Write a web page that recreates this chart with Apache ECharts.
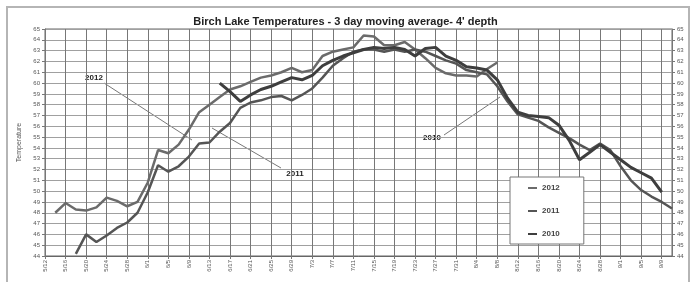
<!DOCTYPE html>
<html>
<head>
<meta charset="utf-8">
<script src="https://cdn.jsdelivr.net/npm/echarts@6.0.0/dist/echarts.min.js"></script>
<style>
html, body { margin: 0; padding: 0; background: #fff; }
#canvas_main { width: 691px; height: 282px; }
</style>
</head>
<body>
<div id="canvas_main"></div>
<script>
// 3 day moving average, one point every 2 days
var dates = ['5/12','5/14','5/16','5/18','5/20','5/22','5/24','5/26','5/28','5/30',
	'6/1','6/3','6/5','6/7','6/9','6/11','6/13','6/15','6/17','6/19','6/21','6/23','6/25','6/27','6/29',
	'7/1','7/3','7/5','7/7','7/9','7/11','7/13','7/15','7/17','7/19','7/21','7/23','7/25','7/27','7/29','7/31',
	'8/2','8/4','8/6','8/8','8/10','8/12','8/14','8/16','8/18','8/20','8/22','8/24','8/26','8/28','8/30',
	'9/1','9/3','9/5','9/7','9/9','9/11'];

var t2012 = [null,48.0,48.9,48.3,48.2,48.5,49.4,49.1,48.6,49.0,
	50.8,53.8,53.5,54.3,55.7,57.3,58.0,58.7,59.4,59.7,60.1,60.5,60.7,61.0,61.4,
	61.0,61.2,62.5,62.9,63.1,63.3,64.4,64.3,63.5,63.5,63.8,63.1,62.3,61.4,60.9,60.7,
	60.7,60.6,61.3,61.9,null,null,null,null,null,null,null,null,null,null,null,
	null,null,null,null,null,null];

var t2011 = [null,null,null,44.2,46.0,45.3,45.9,46.6,47.1,48.0,
	49.9,52.4,51.8,52.3,53.2,54.4,54.5,55.5,56.3,57.7,58.2,58.4,58.7,58.8,58.4,
	58.9,59.5,60.5,61.6,62.3,62.9,63.1,63.1,62.9,63.1,62.9,63.1,62.9,62.5,62.1,61.8,
	61.2,61.0,60.8,59.7,58.3,57.1,56.8,56.5,55.9,55.4,54.9,54.3,53.8,54.4,53.8,
	52.3,51.0,50.1,49.5,49.0,48.4];

var t2010 = [null,null,null,null,null,null,null,null,null,null,
	null,null,null,null,null,null,null,60.0,59.2,58.3,58.9,59.4,59.7,60.1,60.5,
	60.3,60.7,61.6,62.1,62.5,62.8,63.1,63.3,63.2,63.3,63.1,62.5,63.2,63.3,62.5,62.1,
	61.5,61.4,61.2,60.3,58.6,57.3,57.0,56.9,56.8,56.1,54.7,52.9,53.6,54.3,53.6,
	52.9,52.2,51.7,51.2,49.9,null];

var years = ['2012', '2011', '2010'];
var yMin = 44, yMax = 65;

var myChart = echarts.init(document.getElementById('canvas_main'));

function yAxisStr(pos) {
	return {
		type: 'value',
		position: pos,
		min: yMin,
		max: yMax,
		interval: 1,
		name: pos == 'left' ? 'Temperature' : '',
		nameLocation: 'middle',
		nameGap: 22,
		nameTextStyle: { fontSize: 7, color: '#555', fontFamily: 'Liberation Sans' },
		axisLine: { show: true, lineStyle: { color: '#777' } },
		axisTick: { show: true, length: 3, lineStyle: { color: '#777' } },
		axisLabel: { fontSize: 6, color: '#555', margin: 5, fontFamily: 'Liberation Sans' },
		splitLine: { show: pos == 'left', lineStyle: { color: '#a0a0a0', width: 1 } }
	};
}

function lineSeries(name, data, color, width) {
	return {
		name: name,
		type: 'line',
		data: data,
		symbol: 'none',
		showSymbol: false,
		connectNulls: false,
		lineStyle: { color: color, width: width },
		itemStyle: { color: color }
	};
}

var option = {
	animation: false,
	backgroundColor: '#fff',
	title: {
		text: "Birch Lake Temperatures - 3 day moving average- 4' depth",
		left: 'center',
		top: 11,
		textStyle: { fontSize: 11, fontWeight: 'bold', color: '#222', fontFamily: 'Liberation Sans' }
	},
	grid: {
		left: 45, right: 19, top: 29, bottom: 26,
		show: true, borderColor: '#666', borderWidth: 1
	},
	legend: {
		orient: 'vertical',
		left: 510, top: 177,
		data: years,
		icon: 'rect',
		itemWidth: 9, itemHeight: 2, itemGap: 15,
		padding: [7, 24, 6, 18],
		backgroundColor: '#fff',
		borderColor: '#777', borderWidth: 1,
		textStyle: { fontSize: 8, fontWeight: 'bold', color: '#444', fontFamily: 'Liberation Sans' }
	},
	xAxis: {
		type: 'category',
		data: dates,
		boundaryGap: false,
		axisLine: { lineStyle: { color: '#666' } },
		axisTick: { interval: 1, length: 3, lineStyle: { color: '#777' } },
		axisLabel: { interval: 1, rotate: 90, fontSize: 6, color: '#555', margin: 4, fontFamily: 'Liberation Sans' },
		splitLine: { show: true, interval: 1, lineStyle: { color: '#777', width: 1 } }
	},
	yAxis: [yAxisStr('left'), yAxisStr('right')],
	series: [
		lineSeries('2012', t2012, '#6b6b6b', 2.5),
		lineSeries('2011', t2011, '#555', 2.5),
		lineSeries('2010', t2010, '#3e3e3e', 3)
	],
	graphic: [
		{ type: 'rect', shape: { x: 7, y: 7, width: 682, height: 290 },
			style: { fill: 'none', stroke: '#b5b5b5', lineWidth: 2 }, silent: true },
		{ type: 'line', shape: { x1: 104, y1: 83, x2: 192, y2: 140 }, style: { stroke: '#777', lineWidth: 1 } },
		{ type: 'line', shape: { x1: 281, y1: 168, x2: 212, y2: 128 }, style: { stroke: '#777', lineWidth: 1 } },
		{ type: 'line', shape: { x1: 444, y1: 135, x2: 500, y2: 97 }, style: { stroke: '#777', lineWidth: 1 } },
		{ type: 'text', x: 94, y: 78, style: { text: '2012', fill: '#222', align: 'center', verticalAlign: 'middle', font: 'bold 8px Liberation Sans' } },
		{ type: 'text', x: 295, y: 174, style: { text: '2011', fill: '#222', align: 'center', verticalAlign: 'middle', font: 'bold 8px Liberation Sans' } },
		{ type: 'text', x: 432, y: 138, style: { text: '2010', fill: '#222', align: 'center', verticalAlign: 'middle', font: 'bold 8px Liberation Sans' } }
	]
};
myChart.setOption(option);
</script>
</body>
</html>
